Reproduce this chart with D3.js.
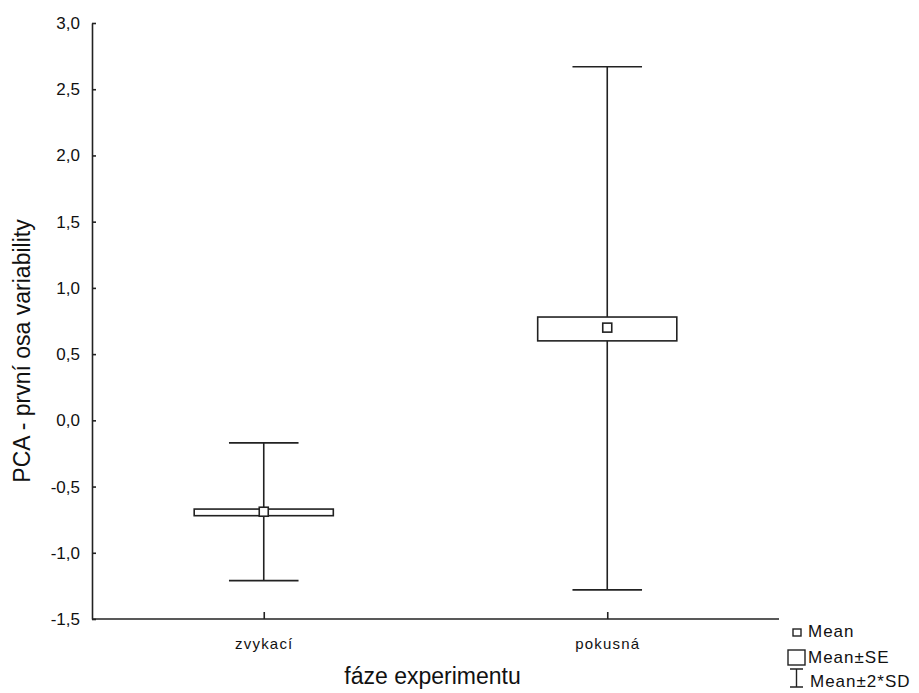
<!DOCTYPE html>
<html>
<head>
<meta charset="utf-8">
<script src="https://cdn.jsdelivr.net/npm/d3@7"></script>
<style>
  body { margin: 0; background: #fff; }
  text { font-family: "Liberation Sans", Arial, sans-serif; fill: #111; }
</style>
</head>
<body>
<div id="chart"></div>
<script>
var svgWidth = 919;
var svgHeight = 693;

// data
var categories = ["zvykací", "pokusná"];
var means = [-0.69, 0.70];
var seLow = [-0.72, 0.60];
var seHigh = [-0.67, 0.78];
var sdLow = [-1.21, -1.28];
var sdHigh = [-0.17, 2.67];
var yTicks = [-1.5, -1.0, -0.5, 0.0, 0.5, 1.0, 1.5, 2.0, 2.5, 3.0];
var legendLabels = ["Mean", "Mean±SE", "Mean±2*SD"];

var margin = { top: 23, right: 140, bottom: 74, left: 92 };
var width = svgWidth - margin.left - margin.right;
var height = svgHeight - margin.top - margin.bottom;

var data = categories.map(function(c, i) {
  return { cat: c, mean: means[i], seLo: seLow[i], seHi: seHigh[i], sdLo: sdLow[i], sdHi: sdHigh[i] };
});

var svg = d3.select("#chart")
  .append("svg")
  .attr("width", svgWidth)
  .attr("height", svgHeight);

var chartGroup = svg.append("g")
  .attr("transform", `translate(${margin.left}, ${margin.top})`);

var xScale = d3.scalePoint()
  .domain(categories)
  .range([0, width])
  .padding(0.5);

var yScale = d3.scaleLinear()
  .domain([-1.5, 3.0])
  .range([height, 0]);

// czech decimal comma, plain hyphen for minus
var fmt = function(d) { return d3.format(".1f")(d).replace(".", ",").replace("−", "-"); };

var boxW = xScale.step() * 0.405;
var capW = boxW / 2;

// axes
var leftAxis = d3.axisLeft(yScale).tickValues(yTicks).tickFormat(fmt).tickSize(-4).tickSizeOuter(0).tickPadding(12);
var bottomAxis = d3.axisBottom(xScale).tickSize(-7).tickSizeOuter(0).tickPadding(19);

var yAxisG = chartGroup.append("g").call(leftAxis);
yAxisG.selectAll("text")
  .attr("font-size", "17px")
  .attr("font-family", "Liberation Sans, Arial, sans-serif")
  .attr("fill", "#222");

var xAxisG = chartGroup.append("g")
  .attr("transform", `translate(0, ${height})`)
  .call(bottomAxis);
xAxisG.selectAll("text")
  .attr("font-size", "15px")
  .attr("font-family", "DejaVu Sans, sans-serif")
  .attr("letter-spacing", "1.2px")
  .attr("fill", "#222");

svg.selectAll(".domain, .tick line").attr("stroke", "#222").attr("stroke-width", 1.6);
xAxisG.select(".domain").attr("d", `M0,0H${width}`);

// whiskers (mean ± 2*SD)
var groups = chartGroup.selectAll(".grp")
  .data(data)
  .enter()
  .append("g")
  .attr("class", "grp");

groups.append("line")
  .attr("x1", d => xScale(d.cat)).attr("x2", d => xScale(d.cat))
  .attr("y1", d => yScale(d.sdHi)).attr("y2", d => yScale(d.sdLo))
  .attr("stroke", "#222").attr("stroke-width", 1.6);

groups.append("line")
  .attr("x1", d => xScale(d.cat) - capW / 2).attr("x2", d => xScale(d.cat) + capW / 2)
  .attr("y1", d => yScale(d.sdHi)).attr("y2", d => yScale(d.sdHi))
  .attr("stroke", "#222").attr("stroke-width", 1.6);

groups.append("line")
  .attr("x1", d => xScale(d.cat) - capW / 2).attr("x2", d => xScale(d.cat) + capW / 2)
  .attr("y1", d => yScale(d.sdLo)).attr("y2", d => yScale(d.sdLo))
  .attr("stroke", "#222").attr("stroke-width", 1.6);

// SE boxes
groups.append("rect")
  .attr("x", d => xScale(d.cat) - boxW / 2)
  .attr("y", d => yScale(d.seHi))
  .attr("width", boxW)
  .attr("height", d => yScale(d.seLo) - yScale(d.seHi))
  .attr("fill", "#fff")
  .attr("stroke", "#222").attr("stroke-width", 1.6);

// mean markers
groups.append("rect")
  .attr("x", d => xScale(d.cat) - 4.5)
  .attr("y", d => yScale(d.mean) - 4.5)
  .attr("width", 9).attr("height", 9)
  .attr("fill", "#fff")
  .attr("stroke", "#222").attr("stroke-width", 1.6);

// axis titles
chartGroup.append("text")
  .attr("x", width / 2 - 3)
  .attr("y", height + 65)
  .attr("text-anchor", "middle")
  .attr("font-size", "23px")
  .attr("fill", "#333")
  .text("fáze experimentu");

chartGroup.append("text")
  .attr("transform", "rotate(-90)")
  .attr("x", 0 - (height / 2) - 30)
  .attr("y", 0 - margin.left + 30)
  .attr("text-anchor", "middle")
  .attr("font-size", "23px")
  .attr("fill", "#333")
  .text("PCA - první osa variability");

// legend
var legend = svg.append("g").attr("transform", "translate(788, 622)");
legend.append("rect").attr("x", 5).attr("y", 7).attr("width", 8).attr("height", 7)
  .attr("fill", "#fff").attr("stroke", "#222").attr("stroke-width", 1.4);
legend.append("rect").attr("x", 0).attr("y", 28).attr("width", 17).attr("height", 15)
  .attr("fill", "#fff").attr("stroke", "#222").attr("stroke-width", 1.4);
legend.append("path").attr("d", "M2,47H15M8.5,47V65M2,65H15")
  .attr("fill", "none").attr("stroke", "#222").attr("stroke-width", 1.4);

legend.selectAll(".lg")
  .data(legendLabels)
  .enter()
  .append("text")
  .attr("x", (d, i) => i === 2 ? 22 : 20)
  .attr("y", (d, i) => [15, 41, 65][i])
  .attr("font-size", "17px")
  .attr("font-family", "DejaVu Sans, sans-serif")
  .attr("letter-spacing", "1px")
  .attr("fill", "#222")
  .text(d => d);
</script>
</body>
</html>
